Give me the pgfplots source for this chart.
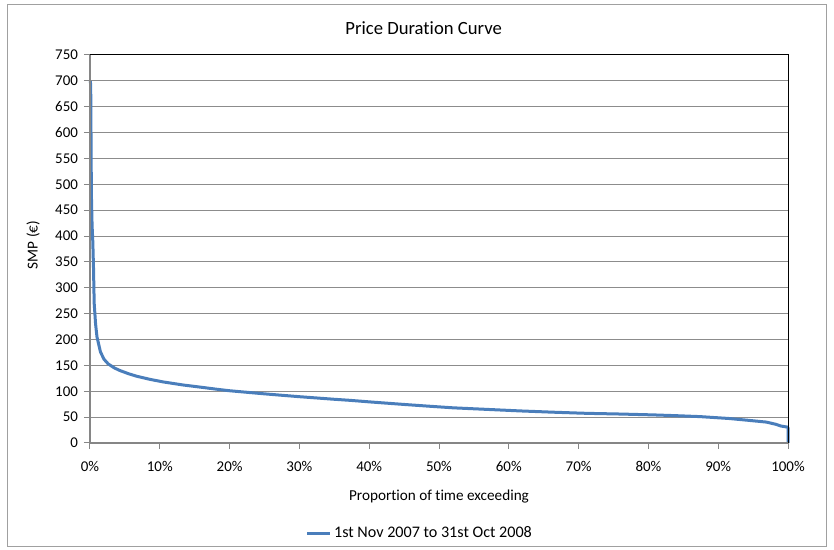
\documentclass[border=0pt]{standalone}
\usepackage{fontspec}
\setmainfont{Carlito}[Ligatures=NoCommon]
\usepackage{pgfplots}
\pgfplotsset{compat=1.18}
\definecolor{lineblue}{HTML}{4A7EBB}
\definecolor{gridgray}{HTML}{8C8C8C}
\definecolor{axisgray}{HTML}{868686}
\definecolor{bordergray}{HTML}{A0A0A0}
\begin{document}
\begin{tikzpicture}
\begin{axis}[
  name=ax,
  scale only axis,
  width=523.5pt, height=291pt,
  xmin=0, xmax=100, ymin=0, ymax=750,
  xtick={0,10,...,100},
  ytick={0,50,...,750},
  xticklabel={\pgfmathprintnumber{\tick}\%},
  /pgf/number format/assume math mode=true,
  ymajorgrids,
  grid style={gridgray, line width=0.75pt},
  axis line style={draw=none},
  tick style={axisgray, line width=0.75pt},
  major tick length=4.5pt,
  tick align=outside,
  xtick pos=left, ytick pos=left,
  ticklabel style={font=\fontsize{11.2}{13}\selectfont, text=black},
  yticklabel style={xshift=-1pt},
  xticklabel style={yshift=-5.5pt},
  xlabel={Proportion of time exceeding},
  label style={font=\fontsize{11.4}{14}\selectfont},
  xlabel style={at={(rel axis cs:0.5,0)}, anchor=center, yshift=-40pt},
  legend style={at={(rel axis cs:0.473,-0.232)}, anchor=center, draw=none, fill=none,
    font=\fontsize{12.1}{14}\selectfont, inner sep=0pt},
  legend image code/.code={\draw[#1, line width=2.25pt] (0pt,0pt) -- (17pt,0pt);},
  clip=false,
]
\addplot[lineblue, line width=2.25pt, line join=round] coordinates {
(0.05,700) (0.1,690) (0.2,480) (0.3,420) (0.4,390) (0.5,340) (0.6,270) (0.8,230)
(1.0,205) (1.5,176) (2.0,162) (2.6,153) (3.5,145) (4.3,140) (5.5,134) (6.7,129)
(8.6,123) (10.5,118) (13.4,112) (15.8,108) (18.1,104) (20,101) (22.9,97.5) (25,95)
(27.7,92) (30,89.5) (32.5,87) (35,84.5) (37.2,82.5) (40,79.5) (42,77.5) (45,74.5)
(48.7,71) (52,68) (56.8,65) (61.6,62) (66.4,59.5) (71.2,57.3) (75.9,56) (80.7,54.3)
(84,52.8) (87.4,51) (90,48.7) (91.5,47.4) (94.2,44) (96.9,40.4) (98.3,36) (99,32.7)
(99.9,30.8) (100,29) (100,0)
};
\addlegendentry{1st Nov 2007 to 31st Oct 2008}
\draw[black, line width=0.75pt] (rel axis cs:0,1) -- (rel axis cs:1,1) -- (rel axis cs:1,0);
\draw[axisgray, line width=1pt] (rel axis cs:0,1) -- (rel axis cs:0,0) -- (rel axis cs:1,0);
\node[font=\fontsize{14}{16}\selectfont] at ([yshift=20.25pt]rel axis cs:0.478,1) {Price Duration Curve};
\node[rotate=90, font=\fontsize{11.4}{14}\selectfont] at ([xshift=-42.75pt]rel axis cs:0,0.51) {SMP (€)};
\end{axis}
\draw[bordergray, line width=0.75pt] ([xshift=-61.5pt,yshift=-78pt]ax.south west) rectangle ([xshift=28.5pt,yshift=37.5pt]ax.north east);
\path ([xshift=-67.5pt,yshift=-80.25pt]ax.south west) rectangle ([xshift=34.5pt,yshift=41.25pt]ax.north east);
\end{tikzpicture}
\end{document}
